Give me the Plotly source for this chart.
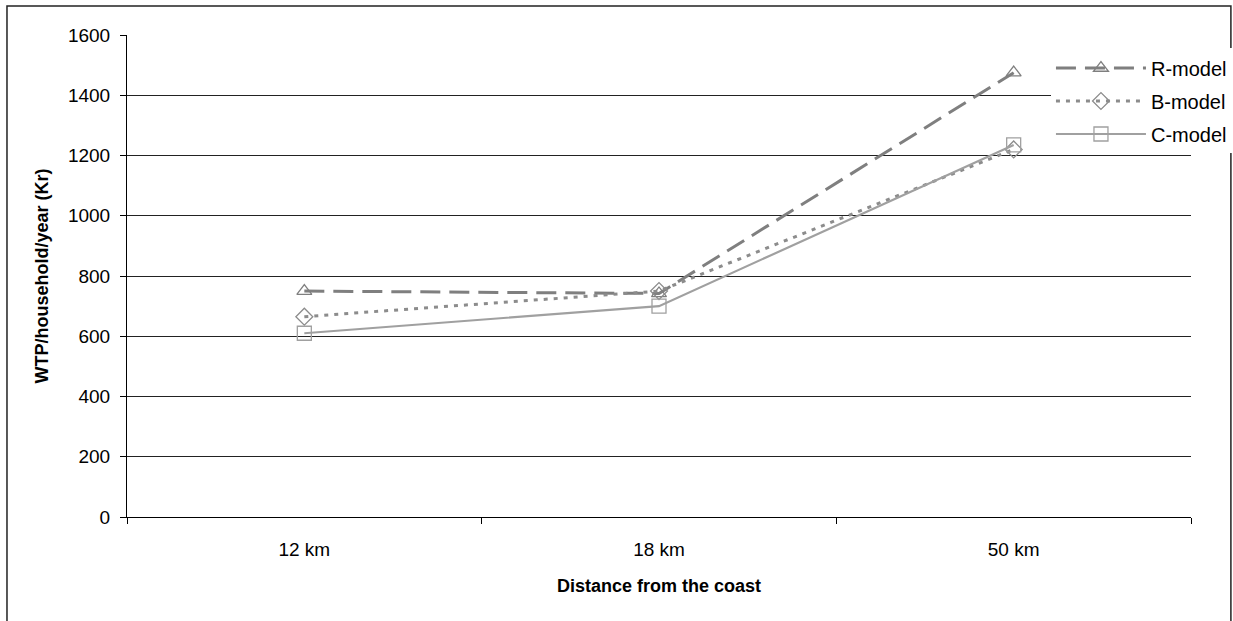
import plotly.graph_objects as go

# Willingness to pay by distance from the coast, three model specifications
distances = ["12 km", "18 km", "50 km"]
r_model = [750, 742, 1475]
b_model = [665, 750, 1220]
c_model = [610, 700, 1235]
y_ticks = [0, 200, 400, 600, 800, 1000, 1200, 1400, 1600]

fig = go.Figure()
fig.add_trace(go.Scatter(
    x=distances, y=r_model, name="R-model", mode="lines+markers", legendgroup="r",
    line=dict(color="#7f7f7f", width=3, dash="20px,9px"),
    marker=dict(symbol="triangle-up-open", size=13, color="#7f7f7f",
                line=dict(width=1.3)),
))
fig.add_trace(go.Scatter(
    x=distances, y=b_model, name="B-model", mode="lines+markers", legendgroup="b",
    line=dict(color="#8c8c8c", width=3, dash="4px,6px"),
    marker=dict(symbol="diamond-open", size=13, color="#8c8c8c",
                line=dict(width=1.3)),
))
fig.add_trace(go.Scatter(
    x=distances, y=c_model, name="C-model", mode="lines+markers", legendgroup="c",
    line=dict(color="#a0a0a0", width=2.2),
    marker=dict(symbol="square-open", size=14, color="#a0a0a0",
                line=dict(width=1.3)),
))

FAMILY = "Liberation Sans, Arial, sans-serif"
tick_font = dict(family=FAMILY, size=19, color="#000")
title_font = dict(family=FAMILY, size=18, color="#000")

fig.update_layout(
    width=1233, height=621,
    margin=dict(l=127, r=42, t=35, b=104, autoexpand=False),
    paper_bgcolor="white", plot_bgcolor="white",
    font=tick_font,
    showlegend=True,
    legend=dict(
        x=1.0385, xanchor="right", y=0.972, yanchor="top",
        bgcolor="white", borderwidth=0,
        font=dict(family=FAMILY, size=20, color="#000"),
        itemwidth=90, tracegroupgap=4,
    ),
    xaxis=dict(
        type="category", tickson="boundaries",
        ticks="outside", ticklen=6, tickcolor="#000",
        showline=True, linecolor="#000", linewidth=1,
        showgrid=False, range=[-0.5, 2.5],
        tickfont=tick_font, ticklabelstandoff=15,
        title=dict(text="<b>Distance from the coast</b>", font=title_font, standoff=20),
    ),
    yaxis=dict(
        range=[0, 1600], tickvals=y_ticks,
        ticks="outside", ticklen=6, tickcolor="#000",
        showline=True, linecolor="#000", linewidth=1,
        showgrid=True, gridcolor="#222", gridwidth=1,
        zeroline=False,
        tickfont=tick_font, ticklabelstandoff=6,
        title=dict(text="<b>WTP/household/year (Kr)</b>", font=title_font, standoff=14),
    ),
    shapes=[dict(
        type="rect", xref="paper", yref="paper",
        x0=-0.1128, x1=1.0375, y0=-0.25, y1=1.0602,
        line=dict(color="#222", width=1.5), fillcolor="rgba(0,0,0,0)",
        layer="above",
    )],
)

fig.write_html("out.html")
